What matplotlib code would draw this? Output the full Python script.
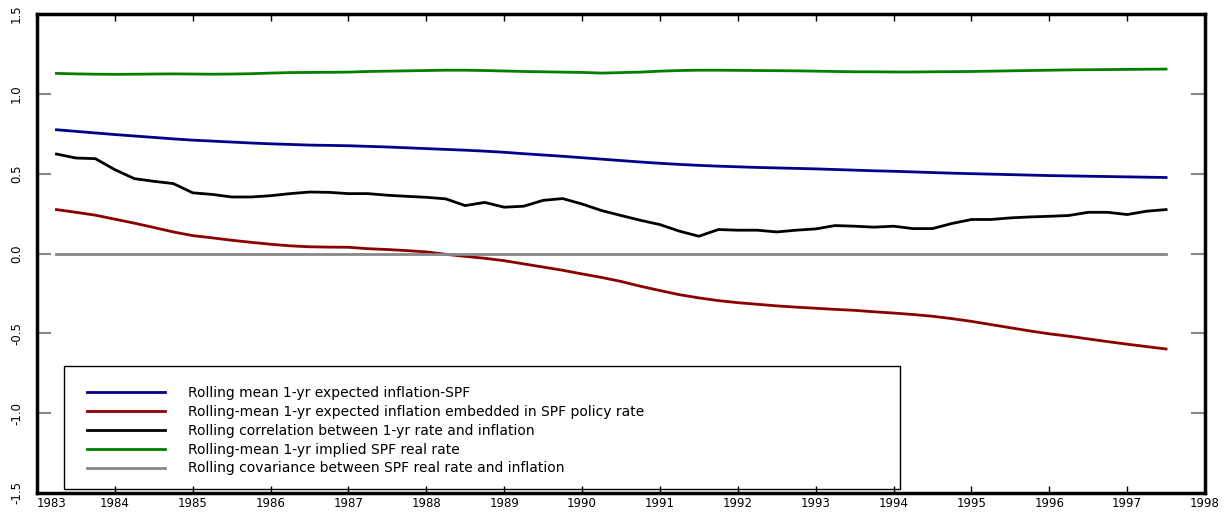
import numpy as np
import matplotlib.pyplot as plt
from matplotlib.patches import Rectangle

# quarterly observations, 1983Q2 .. 1997Q3
quarters = [1983.25 + 0.25 * i for i in range(58)]

mean_infl_spf = [
    0.775, 0.765, 0.755,
    0.745, 0.736, 0.727, 0.718,
    0.710, 0.704, 0.698, 0.692,
    0.687, 0.683, 0.679, 0.677,
    0.675, 0.671, 0.667, 0.662,
    0.657, 0.652, 0.647, 0.641,
    0.634, 0.625, 0.617, 0.609,
    0.600, 0.591, 0.582, 0.573,
    0.565, 0.558, 0.552, 0.547,
    0.543, 0.539, 0.536, 0.533,
    0.530, 0.526, 0.522, 0.518,
    0.515, 0.511, 0.507, 0.503,
    0.500, 0.497, 0.494, 0.491,
    0.488, 0.486, 0.484, 0.482,
    0.480, 0.478, 0.476,
]

mean_infl_policy = [
    0.275, 0.258, 0.240,
    0.215, 0.190, 0.163, 0.135,
    0.112, 0.098, 0.083, 0.070,
    0.058, 0.048, 0.042, 0.040,
    0.039, 0.030, 0.025, 0.018,
    0.010, -0.005, -0.018, -0.030,
    -0.045, -0.065, -0.085, -0.105,
    -0.128, -0.150, -0.175, -0.205,
    -0.232, -0.258, -0.278, -0.295,
    -0.308, -0.318, -0.328, -0.336,
    -0.343, -0.350, -0.356, -0.365,
    -0.373, -0.382, -0.393, -0.408,
    -0.425, -0.445, -0.465, -0.485,
    -0.503, -0.518, -0.535, -0.552,
    -0.568, -0.583, -0.598,
]

corr_rate_infl = [
    0.623, 0.598, 0.594,
    0.525, 0.469, 0.452, 0.438,
    0.380, 0.370, 0.354, 0.354,
    0.362, 0.375, 0.385, 0.383,
    0.375, 0.375, 0.365, 0.358,
    0.352, 0.342, 0.300, 0.320,
    0.290, 0.296, 0.333, 0.344,
    0.310, 0.269, 0.238, 0.208,
    0.181, 0.140, 0.108, 0.150,
    0.146, 0.146, 0.135, 0.146,
    0.154, 0.175, 0.171, 0.165,
    0.171, 0.156, 0.156, 0.188,
    0.213, 0.213, 0.223, 0.229,
    0.233, 0.238, 0.258, 0.258,
    0.244, 0.265, 0.275,
]

mean_real_rate = [
    1.128, 1.125, 1.123,
    1.122, 1.123, 1.124, 1.125,
    1.124, 1.123, 1.124, 1.126,
    1.130, 1.133, 1.134, 1.135,
    1.136, 1.140, 1.142, 1.144,
    1.146, 1.148, 1.148, 1.146,
    1.143, 1.140, 1.138, 1.136,
    1.134, 1.130, 1.133, 1.136,
    1.142, 1.146, 1.148, 1.148,
    1.147, 1.146, 1.145, 1.144,
    1.142, 1.140, 1.138, 1.138,
    1.137, 1.137, 1.138, 1.139,
    1.140, 1.142, 1.144, 1.146,
    1.148, 1.150, 1.151, 1.152,
    1.153, 1.154, 1.155,
]

cov_real_infl = [0.0] * 58

labels = [
    "Rolling mean 1-yr expected inflation-SPF",
    "Rolling-mean 1-yr expected inflation embedded in SPF policy rate",
    "Rolling correlation between 1-yr rate and inflation",
    "Rolling-mean 1-yr implied SPF real rate",
    "Rolling covariance between SPF real rate and inflation",
]
colors = ["#00008b", "#8b0000", "black", "#008000", "#888888"]
series = [mean_infl_spf, mean_infl_policy, corr_rate_infl, mean_real_rate, cov_real_infl]

years = list(range(1983, 1999))
yticks = [-1.5, -1.0, -0.5, 0.0, 0.5, 1.0, 1.5]

fig = plt.figure(figsize=(12.31, 5.14), dpi=100)
ax = fig.add_axes([37 / 1231, 21 / 514, 1168 / 1231, 479 / 514])

for vals, c, lab in zip(series, colors, labels):
    ax.plot(quarters, vals, color=c, lw=2.0, label=lab)

ax.set_xlim(1983, 1998)
ax.set_ylim(-1.5, 1.5)
ax.set_xticks(years)
ax.set_xticklabels([str(y) for y in years], fontsize=8.5)
ax.get_xticklabels()[0].set_horizontalalignment("left")
ax.set_yticks(yticks)
ax.set_yticklabels([f"{v:.1f}" for v in yticks], rotation=90, va="center", fontsize=8.5)
ax.tick_params(axis="x", direction="in", length=5, width=1, top=True, pad=3)
ax.tick_params(axis="y", direction="in", length=10, width=1.5, right=True,
               color="#888888", pad=10)
for s in ax.spines.values():
    s.set_linewidth(2.5)

# legend box drawn separately so the entries can sit where the original has them
ax.add_patch(Rectangle((0.023, 0.008), 0.716, 0.257, transform=ax.transAxes,
                       fill=False, edgecolor="black", lw=1.0, zorder=4))
ax.legend(loc="upper left", bbox_to_anchor=(0.0428, 0.2234), fontsize=10,
          frameon=False, handlelength=5.6, handletextpad=1.65,
          labelspacing=0.35, borderpad=0, borderaxespad=0)

fig.savefig("out.png", dpi=100)
